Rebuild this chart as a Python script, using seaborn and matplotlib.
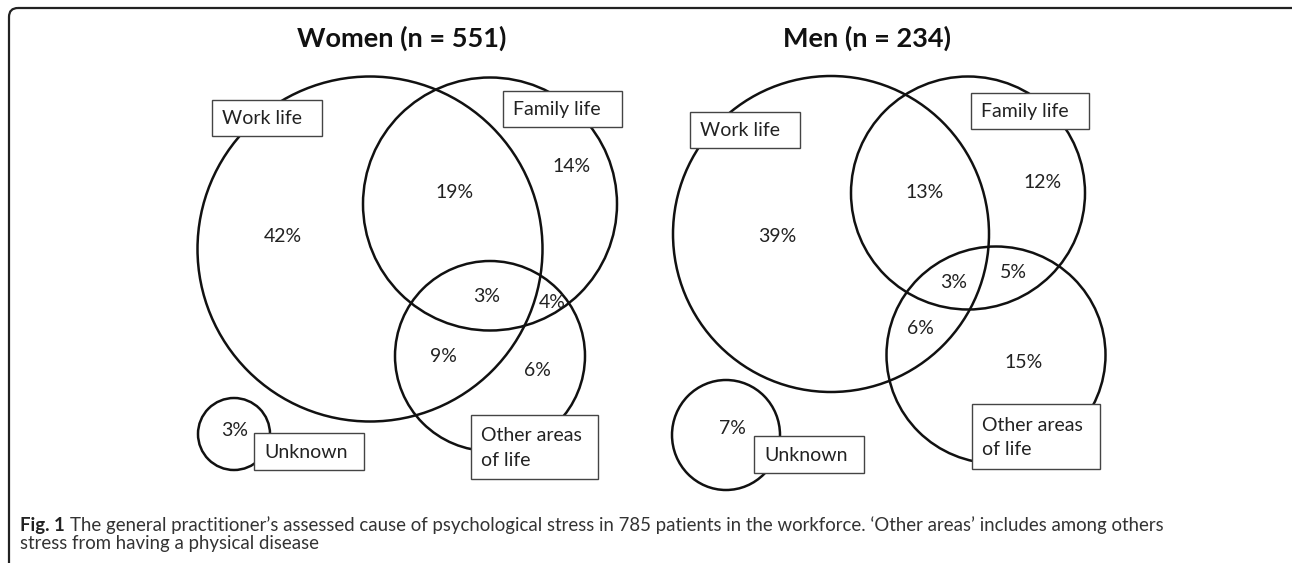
import numpy as np
import matplotlib.pyplot as plt
import seaborn as sns
from matplotlib.patches import Ellipse, Rectangle, FancyBboxPatch

# ------------------------------
# DATA
# ------------------------------
groups = ["Women (n = 551)", "Men (n = 234)"]
regions = ["Work only", "Work & Family", "Family only", "Work & Family & Other",
           "Family & Other", "Work & Other", "Other only", "Unknown"]
women_pct = [42, 19, 14, 3, 4, 9, 6, 3]
men_pct = [39, 13, 12, 3, 5, 6, 15, 7]
set_names = ["Work life", "Family life", "Other areas\nof life", "Unknown"]
caption_bold = "Fig. 1"
caption_line1 = ("The general practitioner\u2019s assessed cause of psychological stress in 785 patients "
                 "in the workforce. \u2018Other areas\u2019 includes among others")
caption_line2 = "stress from having a physical disease"

# ------------------------------
# LAYOUT (pixel space of the figure)
# ------------------------------
layouts = [
    {
        "title": (402, 38),
        # circles: centre x, centre y, width, height  (work, family, other, unknown)
        "circles": [(370, 249, 345, 345), (490, 204, 254, 253), (490, 356, 190, 190), (234, 434, 72, 72)],
        "labels": [(283, 237), (455, 192), (572, 167), (487, 297), (552, 302), (443, 356), (537, 370), (235, 430)],
        # boxes: x0, y0, x1, y1
        "boxes": [(212, 100, 322, 136), (503, 91, 622, 127), (471, 415, 598, 479), (254, 433, 364, 470)],
    },
    {
        "title": (867, 38),
        "circles": [(831, 234, 316, 316), (968, 193, 234, 233), (996, 355, 219, 217), (726, 435, 108, 110)],
        "labels": [(777, 236), (925, 192), (1043, 182), (954, 282), (1013, 273), (920, 329), (1024, 362), (732, 428)],
        "boxes": [(690, 112, 800, 148), (971, 93, 1089, 129), (972, 404, 1100, 469), (754, 436, 864, 473)],
    },
]

sns.set_theme(style="white")
plt.rcParams['font.family'] = ['Lato', 'DejaVu Sans']

W, H = 1292, 563
fig = plt.figure(figsize=(W / 100, H / 100), dpi=100)
ax = fig.add_axes([0, 0, 1, 1])
ax.set_xlim(0, W)
ax.set_ylim(H, 0)
ax.axis('off')

txt = '#222222'

# outer rounded frame
frame = FancyBboxPatch((9, 8), W + 10, H + 10, boxstyle="round,pad=0,rounding_size=9",
                       fill=False, lw=1.6, ec='#222222')
ax.add_patch(frame)

for group, pct, lay in zip(groups, [women_pct, men_pct], layouts):
    ax.text(*lay["title"], group, ha='center', va='center', fontsize=19.5,
            fontweight='bold', color='#111111')
    for cx, cy, w, h in lay["circles"]:
        ax.add_patch(Ellipse((cx, cy), w, h, fill=False, lw=1.8, ec='#111111', zorder=2))
    for (x, y), v in zip(lay["labels"], pct):
        ax.text(x, y, f"{v}%", ha='center', va='center', fontsize=14, color=txt, zorder=3)
    for (x0, y0, x1, y1), name in zip(lay["boxes"], set_names):
        ax.add_patch(Rectangle((x0, y0), x1 - x0, y1 - y0, fc='white', ec='#444444',
                               lw=1.0, zorder=4))
        ax.text(x0 + 10, (y0 + y1) / 2 + 1, name, ha='left', va='center', fontsize=14,
                color=txt, zorder=5, linespacing=1.55)

# caption: bold "Fig. 1" followed by the normal text
cap_size = 13.4
fb = ax.text(20, 525, caption_bold, ha='left', va='center', fontsize=cap_size,
             fontweight='bold', color='#222222')
fig.canvas.draw()
bb = fb.get_window_extent()
x_end = ax.transData.inverted().transform((bb.x1, bb.y0))[0]
ax.text(x_end + 5, 525, caption_line1, ha='left', va='center', fontsize=cap_size, color='#333333')
ax.text(20, 543, caption_line2, ha='left', va='center', fontsize=cap_size, color='#333333')

fig.savefig("out.png", dpi=100)
